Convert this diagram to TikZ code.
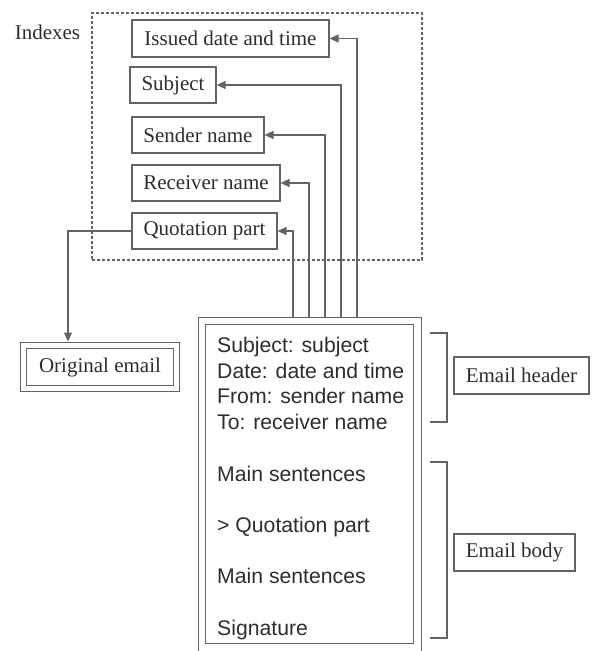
\documentclass[tikz,border=0pt]{standalone}
\usepackage{fontspec}
\setmainfont{Liberation Serif}
\setsansfont{Liberation Sans}
\usetikzlibrary{arrows.meta,fit}
\definecolor{mailline}{RGB}{100,100,100}
\definecolor{mailink}{RGB}{45,45,45}

\begin{document}
\begin{tikzpicture}[x=1pt, y=-1pt,
    idxbox/.style={draw=mailline, line width=1.2pt, inner sep=0pt,
                   minimum height=36pt, text=mailink,
                   font=\fontsize{21}{25}\selectfont},
    dblbox/.style={draw=mailline, line width=1.2pt, double, inner sep=0pt,
                   text=mailink, font=\fontsize{21}{25}\selectfont},
    dashframe/.style={draw=mailline, line width=1.2pt,
                      dash pattern=on 3pt off 2pt, inner sep=0pt},
    plaintext/.style={text=mailink, font=\fontsize{21}{25}\selectfont},
    mailtext/.style={align=left, inner sep=0pt, text=mailink,
                     font=\sffamily\fontsize{21.2}{25.7}\selectfont},
    arr/.style={-{Triangle[length=9pt,width=8pt]}, mailline, line width=1.2pt},
    bracket/.style={draw=mailline, line width=1.2pt}
]
\useasboundingbox (0,0) rectangle (592,651);

% indexes
\node[dashframe, fit={(92,13) (422,260)}] (idxframe) {};
\node[plaintext] (idxlabel) at (47.5,32) {Indexes};

\node[idxbox, minimum width=197pt, minimum height=37pt] (issued)    at (230.5,38.5) {Issued date and time};
\node[idxbox, minimum width=86pt]  (subject)   at (173,85)   {Subject};
\node[idxbox, minimum width=132pt] (sender)    at (198,135)  {Sender name};
\node[idxbox, minimum width=148pt] (receiver)  at (206,183)  {Receiver name};
\node[idxbox, minimum width=145pt] (quotation) at (204.5,231) {Quotation part};

% email
\node[dblbox, double distance=6.5pt, outer sep=4.5pt,
      fit={(202,321) (417.5,647.5)}] (email) {};
\node[mailtext, anchor=north west] (mailbody) at (217,337)
  {Subject: subject\\Date: date and time\\From: sender name\\To: receiver name\\[25.7pt]
   Main sentences\\[25.7pt]> Quotation part\\[25.7pt]Main sentences\\[25.7pt]Signature};

\node[dblbox, double distance=5pt, outer sep=3.7pt,
      minimum width=153.5pt, minimum height=43.5pt] (orig) at (100,367) {Original email};

\node[idxbox, minimum width=135pt, minimum height=37pt] (header) at (521.5,375.5) {Email header};
\node[idxbox, minimum width=121pt, minimum height=37pt] (body)   at (514.5,552.5) {Email body};

\draw[bracket] (430,333) -| (447,422) -- (430,422);
\draw[bracket] (430,462) -| (447,638) -- (430,638);

\foreach \n/\x in {quotation/293, receiver/309, sender/325, subject/341, issued/357}
  \draw[arr] (\x,0 |- email.north) |- (\n.east);
\draw[arr] (quotation.west) -| (68,0 |- orig.north);
\end{tikzpicture}
\end{document}
